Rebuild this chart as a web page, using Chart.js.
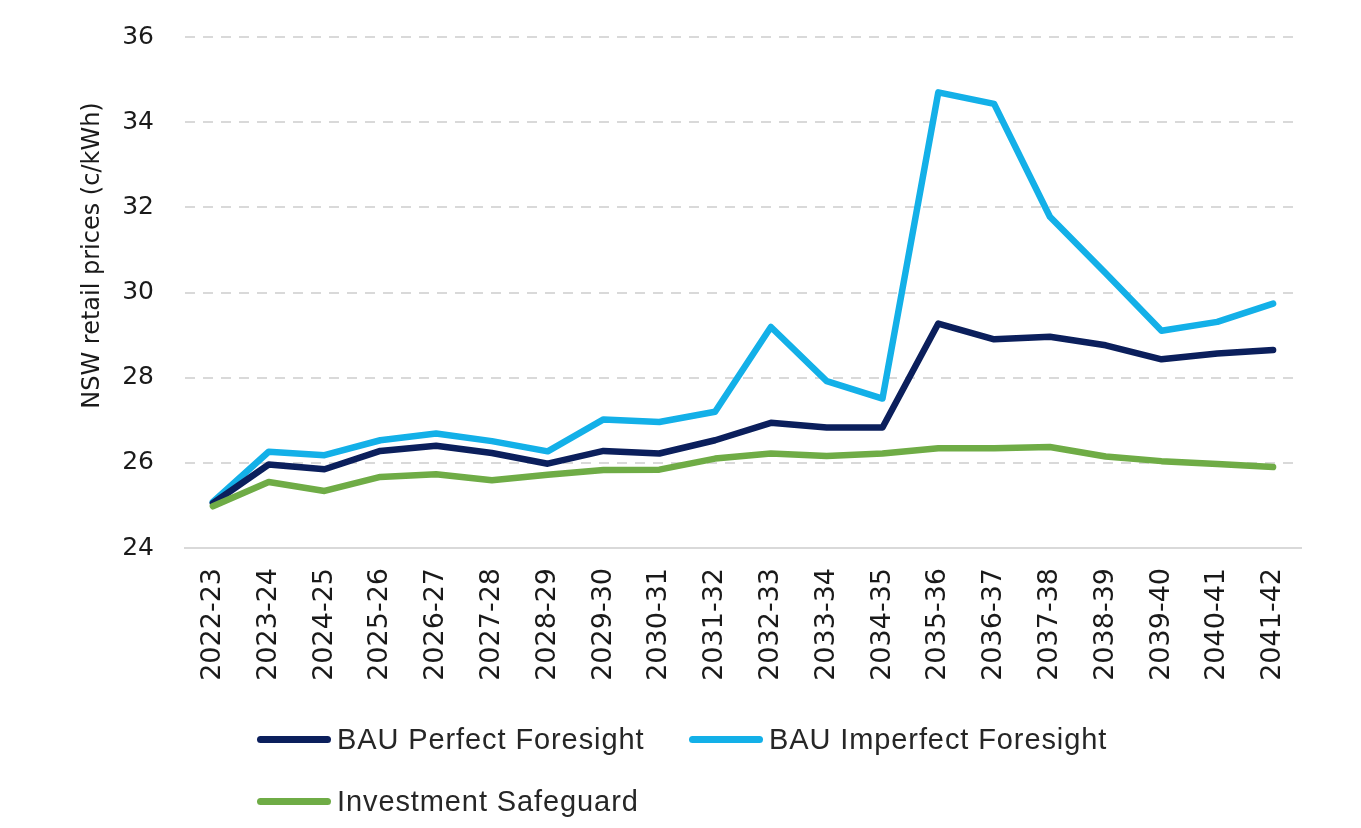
<!DOCTYPE html>
<html>
<head>
<meta charset="utf-8">
<script src="https://cdn.jsdelivr.net/npm/chart.js@4"></script>
<style>
  html, body { margin: 0; padding: 0; background: #fff; }
  #wrap { position: relative; width: 1361px; height: 828px; }
  #legend { position: absolute; left: 0; top: 0; width: 1361px; height: 828px; pointer-events: none; }
  .item { position: absolute; display: flex; align-items: center; font-family: "Liberation Sans", Arial, sans-serif; font-size: 29px; color: #262626; letter-spacing: 0.9px; }
  .swatch { width: 74px; height: 7px; border-radius: 4px; margin-right: 6px; }
</style>
</head>
<body>
<div id="wrap">
  <canvas id="myChart" width="1361" height="828"></canvas>
  <div id="legend"></div>
</div>
<script>
const years = ["2022-23", "2023-24", "2024-25", "2025-26", "2026-27", "2027-28", "2028-29",
  "2029-30", "2030-31", "2031-32", "2032-33", "2033-34", "2034-35", "2035-36", "2036-37",
  "2037-38", "2038-39", "2039-40", "2040-41", "2041-42"];

const bauPerfect = [25.05, 25.96, 25.85, 26.28, 26.40, 26.23, 25.98, 26.28, 26.22, 26.53,
  26.94, 26.83, 26.83, 29.27, 28.90, 28.96, 28.76, 28.43, 28.57, 28.65];
const bauImperfect = [25.08, 26.26, 26.18, 26.53, 26.69, 26.51, 26.27, 27.02, 26.96, 27.20,
  29.19, 27.92, 27.51, 34.70, 34.43, 31.78, 30.45, 29.10, 29.31, 29.74];
const safeguard = [24.98, 25.55, 25.34, 25.67, 25.73, 25.59, 25.72, 25.83, 25.84, 26.10,
  26.22, 26.16, 26.22, 26.34, 26.34, 26.37, 26.15, 26.04, 25.97, 25.90];

const yTicks = [24, 26, 28, 30, 32, 34, 36];

const seriesNames = ["BAU Perfect Foresight", "BAU Imperfect Foresight", "Investment Safeguard"];
const seriesColors = ["#0b1f5c", "#13b0e8", "#6fac46"];
const yTitle = "NSW retail prices (c/kWh)";

const lineStyle = {
  borderWidth: 6.5,
  pointRadius: 0,
  tension: 0,
  fill: false,
  borderCapStyle: "round",
  borderJoinStyle: "round",
};

const data = {
  labels: years,
  datasets: [
    { ...lineStyle, label: seriesNames[0], data: bauPerfect, borderColor: seriesColors[0], order: 1 },
    { ...lineStyle, label: seriesNames[1], data: bauImperfect, borderColor: seriesColors[1], order: 2 },
    { ...lineStyle, label: seriesNames[2], data: safeguard, borderColor: seriesColors[2], order: 0 },
  ],
};

// el título del eje va algo por encima del centro, como en el original
const axisTitlePlugin = {
  id: "axisTitle",
  afterDraw(chart) {
    const { ctx, chartArea } = chart;
    ctx.save();
    ctx.translate(93, (chartArea.top + chartArea.bottom) / 2 - 37);
    ctx.rotate(-Math.PI / 2);
    ctx.fillStyle = "#1a1a1a";
    ctx.font = "24px 'DejaVu Sans'";
    ctx.textAlign = "center";
    ctx.textBaseline = "middle";
    ctx.fillText(yTitle, 0, 0);
    ctx.restore();
  },
};

const config = {
  type: "line",
  data,
  options: {
    responsive: false,
    animation: false,
    layout: {
      padding: { left: 0, right: 60, top: 37, bottom: 0 },
    },
    scales: {
      x: {
        offset: true,
        grid: { display: false, drawTicks: false },
        border: { display: true, color: "#d9d9d9", width: 2 },
        ticks: {
          color: "#1a1a1a",
          maxRotation: 90,
          minRotation: 90,
          autoSkip: false,
          padding: 20,
          font: { family: "DejaVu Sans", size: 27 },
        },
        afterFit: (scale) => { scale.height = 828 - 548; },
      },
      y: {
        min: 24,
        max: 36,
        afterBuildTicks: (scale) => { scale.ticks = yTicks.map((v) => ({ value: v })); },
        grid: {
          drawTicks: false,
          lineWidth: 2,
          color: (c) => (c.tick && c.tick.value === 24 ? "rgba(0,0,0,0)" : "#d9d9d9"),
        },
        border: { display: false, dash: [10, 8] },
        ticks: {
          color: "#1a1a1a",
          padding: 31,
          font: { family: "DejaVu Sans", size: 25 },
        },
        afterFit: (scale) => {
          scale.width = 185;
          scale.paddingTop = 0;
          scale.paddingBottom = 0;
        },
      },
    },
    plugins: {
      legend: { display: false },
      tooltip: { enabled: false },
    },
  },
  plugins: [axisTitlePlugin],
};

const ctx = document.getElementById("myChart");
const chart = new Chart(ctx, config);

// leyenda en HTML para repetir el acomodo de dos filas del original
const legendSpots = [
  { left: 257, top: 740 },
  { left: 689, top: 740 },
  { left: 257, top: 802 },
];
const legendBox = document.getElementById("legend");
chart.data.datasets.forEach((ds, i) => {
  const item = document.createElement("div");
  item.className = "item";
  item.style.left = legendSpots[i].left + "px";
  item.style.top = (legendSpots[i].top - 17) + "px";
  const sw = document.createElement("span");
  sw.className = "swatch";
  sw.style.background = ds.borderColor;
  const txt = document.createElement("span");
  txt.textContent = ds.label;
  item.appendChild(sw);
  item.appendChild(txt);
  legendBox.appendChild(item);
});
</script>
</body>
</html>
